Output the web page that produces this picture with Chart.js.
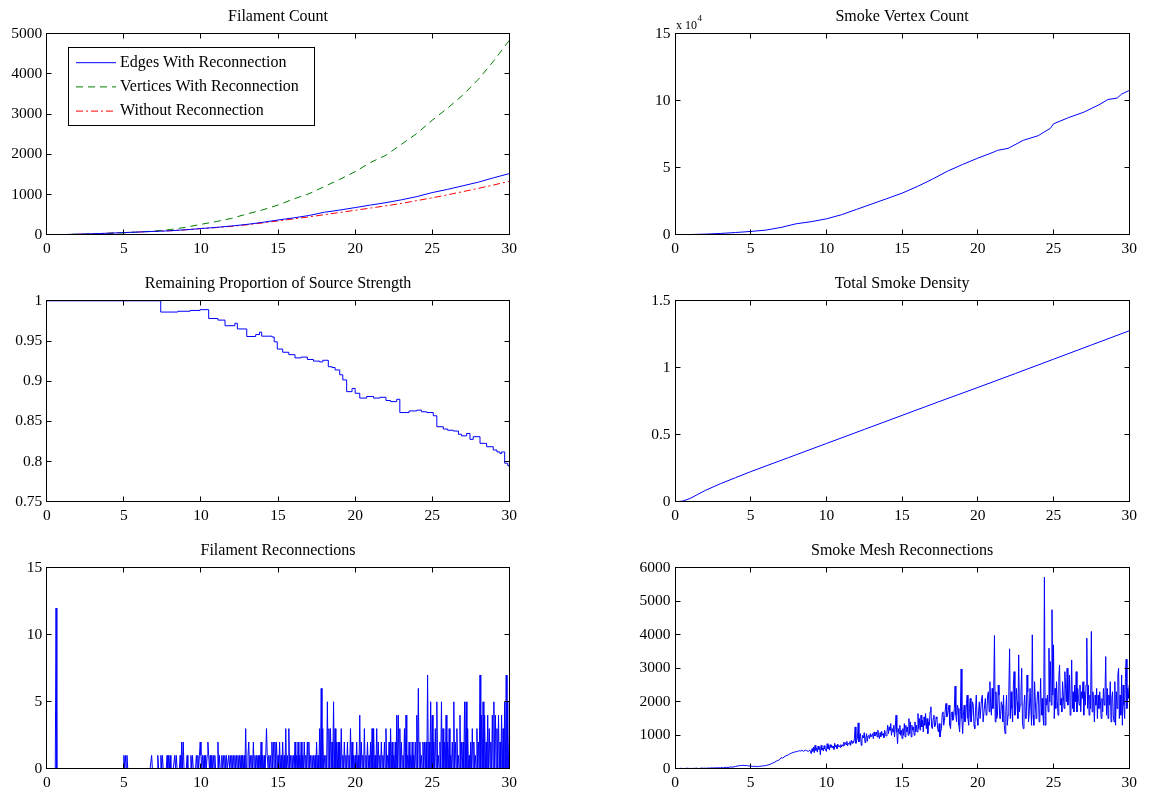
<!DOCTYPE html>
<html>
<head>
<meta charset="utf-8">
<title>Simulation statistics</title>
<script src="https://cdn.jsdelivr.net/npm/chart.js@4.4.1/dist/chart.umd.min.js"></script>
<style>
  body { margin: 0; background: #fff; overflow: hidden; }
  canvas { position: absolute; }
</style>
</head>
<body>
<canvas id="filamentCount" width="530" height="260" style="left:0;top:0"></canvas>
<canvas id="vertexCount" width="553" height="260" style="left:600px;top:0"></canvas>
<canvas id="sourceStrength" width="530" height="260" style="left:0;top:267px"></canvas>
<canvas id="smokeDensity" width="553" height="260" style="left:600px;top:267px"></canvas>
<canvas id="filamentRecon" width="530" height="260" style="left:0;top:534px"></canvas>
<canvas id="meshRecon" width="553" height="260" style="left:600px;top:534px"></canvas>
<script>
// ---- data ----
const filamentTime = [0,1,2,3,4,5,6,7,8,9,10,11,12,13,14,15,16,17,18,19,20,21,22,23,24,25,26,27,28,29,30];
const edgesWithRecon = [0,5,15,25,40,55,70,85,100,125,155,185,220,260,310,368,420,480,560,615,677,740,800,870,950,1050,1130,1220,1310,1420,1522];
const verticesWithRecon = [0,5,15,25,35,50,70,95,130,185,260,330,410,520,620,740,890,1020,1200,1380,1570,1800,1980,2250,2520,2850,3150,3480,3870,4330,4838];
const withoutRecon = [0,5,15,25,40,55,70,85,100,125,155,180,210,250,295,345,395,445,500,555,610,665,720,780,850,920,995,1075,1155,1240,1331];

// smoke vertex count (raw counts)
const vertexTime  = [0,1,2,3,4,5,6,7,8,9,10,11,12,13,14,15,16,17,18,19,20,21,21.3,22,23,24,24.5,24.8,25,26,27,28,28.6,29.2,29.5,30];
const vertexCount = [0,200,500,1000,1700,2500,3500,5500,8200,9800,11900,15000,19000,23000,27000,31100,36000,41500,47500,52500,57200,61500,63000,64500,70500,74000,77500,79500,82800,87500,91500,97000,101000,102000,105000,107700];

// remaining source strength, held until the next change
const strengthTime = [0,7.39,8.5,9.3,9.94,10.5,11.1,11.56,12.2,12.36,12.97,13.55,13.8,13.94,14.6,14.75,14.95,15.3,15.7,16.1,16.5,16.9,17.3,17.7,17.9,18.26,18.5,18.7,19.0,19.2,19.45,19.8,20.0,20.3,20.75,21.2,21.6,22.0,22.3,22.7,22.9,23.5,24.0,24.3,24.64,25.07,25.3,25.72,26.0,26.37,26.7,26.9,27.23,27.45,27.66,28.1,28.53,28.96,29.2,29.39,29.5,29.7,29.9,30];
const strengthValue = [1,0.986,0.987,0.988,0.989,0.978,0.976,0.969,0.972,0.965,0.9556,0.958,0.961,0.956,0.955,0.949,0.94,0.936,0.933,0.929,0.93,0.927,0.925,0.924,0.926,0.918,0.917,0.914,0.908,0.9016,0.887,0.891,0.885,0.879,0.881,0.879,0.88,0.876,0.8746,0.8775,0.861,0.863,0.864,0.862,0.861,0.857,0.8434,0.8405,0.839,0.838,0.834,0.832,0.835,0.8277,0.831,0.8227,0.8185,0.8144,0.812,0.81,0.812,0.798,0.795,0.7936];

const densityTime  = [0,0.5,1,1.5,2,3,4,5,7.5,10,12.5,15,17.5,20,22.5,25,27.5,30];
const densityValue = [0,0.005,0.025,0.055,0.085,0.135,0.18,0.225,0.33,0.435,0.54,0.645,0.75,0.853,0.958,1.064,1.17,1.276];

// filament reconnections per frame, one string per second (20 frames), 'c' = 12
const reconPerSecond = [
  '000000000000c0000000', '00000000000000000000', '00000000000000000000', '00000000000000000000',
  '00000000000000000000', '10101000000000000000', '00000000000000001000', '00001000101000001010',
  '10000010100001020200', '00100001010000101012', '10101010121010101010', '00201001010101001010',
  '10101010101010101030', '01201010201010101020', '10101310101020202020', '10201020103010301010',
  '10201020102010201020', '20101010102010306030', '10105030302050302020', '20301020102010302010',
  '10201040201030102010', '20303010302010201020', '30102030201020404030', '20103040102010201020',
  '40602010202020702050', '40203050102050302040', '20301020502030104020', '20505030102030201030',
  '20704050402040302040', '50403040204030507050', '2'
];

// smoke mesh reconnections, samples spread evenly over each second
const meshPerSecond = [
  [10,5,12,8,15,10,5,12,18,10],
  [12,8,15,10,20,12,8,18,22,15],
  [20,15,25,18,28,22,30,25,32,28],
  [30,35,28,40,45,38,50,55,48,60],
  [70,80,90,95,100,105,95,100,90,85],
  [80,75,70,75,65,70,75,80,85,90],
  [100,110,120,140,160,180,200,230,250,270],
  [330,320,350,380,400,420,450,470,490,500],
  [510,520,540,530,550,520,560,540,520,560],
  [450,600,520,650,480,700,550,620,500,680,580,640,420,700,560,610,530,690,600,560],
  [520,750,600,700,560,720,640,700,620,680,580,760,650,700,600,740,660,690,640,720],
  [650,720,680,800,700,780,720,820,690,760,740,810,700,850,760,830,780,900,1250,760],
  [850,920,1370,800,950,1050,700,880,1000,920,1080,780,900,1050,820,980,1000,900,1050,950],
  [950,1050,900,1100,980,1020,1100,950,1150,1000,900,1080,960,1120,1000,1050,930,1150,1020,980],
  [1100,1300,1050,1250,1150,1350,1000,1200,1100,1300,950,1250,1600,1100,750,1200,1050,1300,1000,1150],
  [900,1200,1000,1350,950,1300,1100,1250,1000,1500,1050,1400,950,1300,1150,1250,1000,1400,1100,1300],
  [1100,1650,1200,1500,1150,1600,1250,1450,1100,1550,1300,1650,1200,1500,1050,1400,1300,1700,1850,1250],
  [1200,1500,1600,1250,1300,1550,1500,1200,1100,1350,950,1100,1200,1650,1700,1300,1450,1750,1950,1550],
  [1600,1750,1900,1300,1200,1650,1700,1450,1500,1800,2470,1600,1400,1900,1800,1300,1100,1700,2980,1500],
  [1050,1600,1900,1400,1500,1950,2200,1500,1300,1800,2100,1400,1600,2000,1900,1300,1200,1750,2200,1500],
  [1300,1700,2000,1500,1500,2100,2200,1400,1400,1900,2100,1600,1700,2200,2300,1700,2600,1900,1600,2400],
  [1800,2300,3980,1400,2300,1500,1600,2500,2200,1500,1500,2000,1900,1400,2200,1300,1050,1700,2200,1300],
  [1600,2300,3580,1500,2300,1800,1400,2500,2900,1600,1700,2400,2000,1500,3400,1700,1900,2300,3000,1400],
  [1200,1900,2200,1500,1500,2800,2300,1400,1700,2400,2400,1300,4000,1600,1300,2600,2000,1500,1900,2300],
  [2300,1400,1800,2700,1600,2100,1600,1300,5720,1300,2100,1900,2200,1700,3600,2000,3200,1900,4750,2200],
  [3700,1500,2400,1800,2600,2000,1600,2700,3100,1900,2100,1700,2600,2200,1800,2900,2400,2000,3000,1900],
  [2200,2800,1600,2000,3250,1800,2300,1700,2500,2000,2900,1700,2400,2100,1900,2500,1700,2300,2100,2600],
  [1600,2300,1900,2500,3900,1800,2500,1600,2200,1800,4100,1700,2300,2000,1400,2200,1900,2400,1500,2200],
  [1800,2300,2000,1500,2100,1700,2400,1900,2200,3350,1600,2400,1500,2200,1900,2600,1400,2100,2300,1600],
  [1400,2600,1300,2300,1800,2800,3000,1500,2200,1600,2800,1300,2500,1900,1500,2700,3270,1800,2400,2100],
  [2500]
];

// ---- helpers ----
const BLUE = '#0000ff', GREEN = '#008000', RED = '#ff0000';
const TITLE_H = 33.8, PLOT_H = 201, CANVAS_H = 260;

Chart.defaults.font.family = '"Liberation Serif", "Times New Roman", serif';
Chart.defaults.color = '#000';

function pairs(xs, ys) {
  return xs.map((x, i) => ({ x: x, y: ys[i] }));
}

// one row per second, samples spread evenly across that second
function fromSeconds(rows, parse) {
  const pts = [];
  rows.forEach((row, sec) => {
    for (let k = 0; k < row.length; k++) {
      pts.push({ x: +(sec + k / row.length).toFixed(4), y: parse(row[k]) });
    }
  });
  return pts;
}

const trim = v => String(+v.toFixed(2));

// MATLAB style box with inward ticks on all four sides
const boxTicks = {
  id: 'boxTicks',
  afterDatasetsDraw(chart) {
    const { ctx, chartArea: a, scales } = chart;
    const snap = v => Math.round(v - 0.5) + 0.5;
    const L = snap(a.left), R = snap(a.right), T = snap(a.top), B = snap(a.bottom);
    ctx.save();
    ctx.strokeStyle = '#000';
    ctx.lineWidth = 1;
    ctx.strokeRect(L, T, R - L, B - T);
    ctx.beginPath();
    scales.x.ticks.forEach(t => {
      const px = snap(scales.x.getPixelForValue(t.value));
      ctx.moveTo(px, B); ctx.lineTo(px, B - 5);
      ctx.moveTo(px, T); ctx.lineTo(px, T + 5);
    });
    scales.y.ticks.forEach(t => {
      const py = snap(scales.y.getPixelForValue(t.value));
      ctx.moveTo(L, py); ctx.lineTo(L + 5, py);
      ctx.moveTo(R, py); ctx.lineTo(R - 5, py);
    });
    ctx.stroke();
    ctx.restore();
  }
};

const boxedLegend = {
  id: 'boxedLegend',
  afterDraw(chart) {
    const { ctx, chartArea: a } = chart;
    const x0 = Math.round(a.left + 21) + 0.5, y0 = Math.round(a.top + 13) + 0.5;
    ctx.save();
    ctx.fillStyle = '#fff';
    ctx.fillRect(x0, y0, 246, 78);
    ctx.strokeStyle = '#000';
    ctx.lineWidth = 1;
    ctx.strokeRect(x0, y0, 246, 78);
    ctx.font = '16px "Liberation Serif"';
    ctx.textBaseline = 'middle';
    chart.data.datasets.forEach((ds, i) => {
      const yy = y0 + 15.2 + i * 24.2;
      ctx.strokeStyle = ds.borderColor;
      ctx.setLineDash(ds.borderDash || []);
      ctx.beginPath();
      ctx.moveTo(x0 + 7.5, yy);
      ctx.lineTo(x0 + 47.5, yy);
      ctx.stroke();
      ctx.setLineDash([]);
      ctx.fillStyle = '#000';
      ctx.fillText(ds.label, x0 + 51.5, yy);
    });
    ctx.restore();
  }
};

const exponentLabel = {
  id: 'exponentLabel',
  afterDraw(chart) {
    const { ctx, chartArea: a } = chart;
    ctx.save();
    ctx.fillStyle = '#000';
    ctx.textBaseline = 'alphabetic';
    ctx.font = '12px "Liberation Serif"';
    ctx.fillText('x 10', a.left + 1, a.top - 5);
    const w = ctx.measureText('x 10').width;
    ctx.font = '9px "Liberation Serif"';
    ctx.fillText('4', a.left + 1.5 + w, a.top - 13);
    ctx.restore();
  }
};

function makePlot(id, cfg) {
  return new Chart(document.getElementById(id), {
    type: 'line',
    data: { datasets: cfg.datasets },
    plugins: [boxTicks].concat(cfg.plugins || []),
    options: {
      responsive: false,
      devicePixelRatio: 1,
      animation: false,
      events: [],
      layout: { autoPadding: false, padding: { left: 0, top: 0, bottom: 0, right: cfg.padRight } },
      elements: { point: { radius: 0 }, line: { borderWidth: 1, tension: 0 } },
      plugins: {
        legend: { display: false },
        tooltip: { enabled: false },
        title: {
          display: true,
          text: cfg.title,
          fullSize: false,
          font: { size: 16, weight: 'normal' },
          padding: { top: 7, bottom: TITLE_H - 19.2 - 7 }
        }
      },
      scales: {
        x: {
          type: 'linear', min: 0, max: 30,
          grid: { display: false, drawTicks: false },
          border: { display: false },
          ticks: { stepSize: 5, padding: 5, maxRotation: 0, autoSkip: false, font: { size: 15.5 } },
          afterFit: s => { s.height = CANVAS_H - TITLE_H - PLOT_H; }
        },
        y: {
          type: 'linear', min: cfg.yMin, max: cfg.yMax,
          grid: { display: false, drawTicks: false },
          border: { display: false },
          ticks: { stepSize: cfg.yStep, padding: 4.5, autoSkip: false, font: { size: 15.5 }, callback: cfg.yFormat || trim },
          afterFit: s => { s.width = cfg.axisWidth; }
        }
      }
    }
  });
}

const LEFT = { axisWidth: 46.8, padRight: 530 - 509.3 };
const RIGHT = { axisWidth: 75, padRight: 553 - 529.2 };

makePlot('filamentCount', Object.assign({}, LEFT, {
  title: 'Filament Count', yMin: 0, yMax: 5000, yStep: 1000,
  plugins: [boxedLegend],
  datasets: [
    { label: 'Edges With Reconnection', data: pairs(filamentTime, edgesWithRecon), borderColor: BLUE },
    { label: 'Vertices With Reconnection', data: pairs(filamentTime, verticesWithRecon), borderColor: GREEN, borderDash: [7, 5] },
    { label: 'Without Reconnection', data: pairs(filamentTime, withoutRecon), borderColor: RED, borderDash: [7, 3, 2, 3] }
  ]
}));

makePlot('vertexCount', Object.assign({}, RIGHT, {
  title: 'Smoke Vertex Count', yMin: 0, yMax: 150000, yStep: 50000,
  yFormat: v => trim(v / 1e4),
  plugins: [exponentLabel],
  datasets: [{ label: 'Vertices', data: pairs(vertexTime, vertexCount), borderColor: BLUE }]
}));

makePlot('sourceStrength', Object.assign({}, LEFT, {
  title: 'Remaining Proportion of Source Strength', yMin: 0.75, yMax: 1, yStep: 0.05,
  datasets: [{ label: 'Strength', data: pairs(strengthTime, strengthValue), borderColor: BLUE, stepped: 'before' }]
}));

makePlot('smokeDensity', Object.assign({}, RIGHT, {
  title: 'Total Smoke Density', yMin: 0, yMax: 1.5, yStep: 0.5,
  datasets: [{ label: 'Density', data: pairs(densityTime, densityValue), borderColor: BLUE }]
}));

makePlot('filamentRecon', Object.assign({}, LEFT, {
  title: 'Filament Reconnections', yMin: 0, yMax: 15, yStep: 5,
  datasets: [{ label: 'Reconnections', data: fromSeconds(reconPerSecond, c => parseInt(c, 16)), borderColor: BLUE }]
}));

makePlot('meshRecon', Object.assign({}, RIGHT, {
  title: 'Smoke Mesh Reconnections', yMin: 0, yMax: 6000, yStep: 1000,
  datasets: [{ label: 'Mesh reconnections', data: fromSeconds(meshPerSecond, v => v), borderColor: BLUE }]
}));
</script>
</body>
</html>
